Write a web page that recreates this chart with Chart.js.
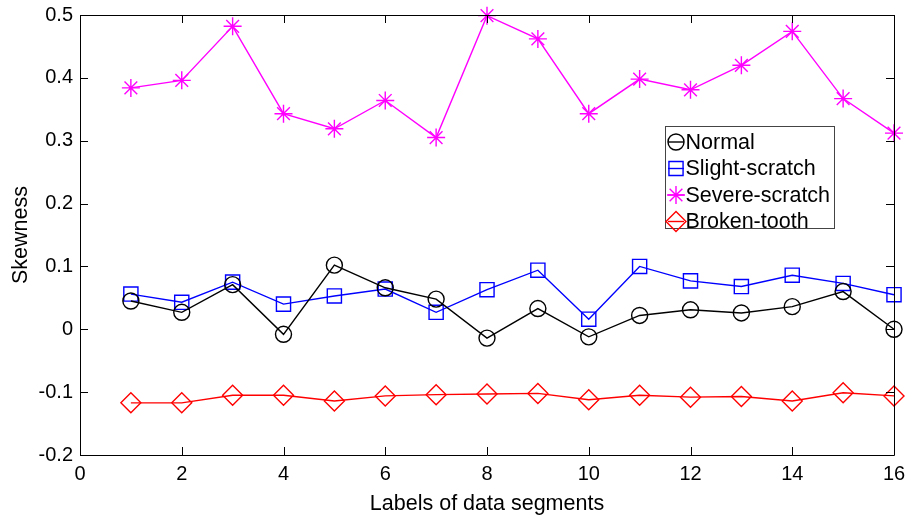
<!DOCTYPE html>
<html>
<head>
<meta charset="utf-8">
<script src="https://cdn.jsdelivr.net/npm/chart.js@4.4.1/dist/chart.umd.min.js"></script>
<style>
  html, body { margin: 0; padding: 0; background: #fff; }
  #wrap { width: 917px; height: 517px; position: relative; }
</style>
</head>
<body>
<div id="wrap"><canvas id="SkewCanvas"></canvas></div>
<script>
const segments = [1, 2, 3, 4, 5, 6, 7, 8, 9, 10, 11, 12, 13, 14, 15, 16];
const normal = [0.045, 0.027, 0.071, -0.008, 0.102, 0.066, 0.048, -0.014, 0.033, -0.012, 0.022, 0.031, 0.026, 0.036, 0.060, 0.000];
const slight = [0.056, 0.043, 0.075, 0.040, 0.053, 0.064, 0.027, 0.063, 0.094, 0.016, 0.100, 0.077, 0.068, 0.086, 0.073, 0.055];
const severe = [0.384, 0.396, 0.482, 0.343, 0.319, 0.364, 0.305, 0.499, 0.462, 0.343, 0.398, 0.381, 0.420, 0.474, 0.367, 0.312];
const broken = [-0.117, -0.117, -0.105, -0.105, -0.114, -0.106, -0.104, -0.103, -0.102, -0.112, -0.105, -0.108, -0.107, -0.114, -0.101, -0.106];
const xTicks = [0, 2, 4, 6, 8, 10, 12, 14, 16];
const yTicks = [-0.2, -0.1, 0, 0.1, 0.2, 0.3, 0.4, 0.5];

const FONT = 'Arial, "Liberation Sans", sans-serif';

function series(label, values, color, style, radius) {
    return {
        label: label,
        data: segments.map((x, i) => ({ x: x, y: values[i] })),
        borderColor: color,
        backgroundColor: color,
        borderWidth: 1.4,
        pointStyle: style,
        pointRadius: radius,
        pointBorderColor: color,
        pointBackgroundColor: 'rgba(0,0,0,0)',
        pointBorderWidth: 1.4,
        tension: 0,
        fill: false,
        clip: false
    };
}

// box round the axes with ticks pointing inwards, plus the legend
const matlabAxes = {
    id: 'matlabAxes',
    afterDatasetsDraw(chart) {
        const ctx = chart.ctx;
        const a = chart.chartArea;
        const xs = chart.scales.x, ys = chart.scales.y;
        const tl = 8;
        ctx.save();
        ctx.strokeStyle = '#000';
        ctx.lineWidth = 1;
        ctx.beginPath();
        ctx.rect(a.left + 0.5, a.top + 0.5, a.right - a.left, a.bottom - a.top);
        xTicks.forEach(v => {
            const px = Math.round(xs.getPixelForValue(v)) + 0.5;
            ctx.moveTo(px, a.bottom); ctx.lineTo(px, a.bottom - tl);
            ctx.moveTo(px, a.top); ctx.lineTo(px, a.top + tl);
        });
        yTicks.forEach(v => {
            const py = Math.round(ys.getPixelForValue(v)) + 0.5;
            ctx.moveTo(a.left, py); ctx.lineTo(a.left + tl, py);
            ctx.moveTo(a.right, py); ctx.lineTo(a.right - tl, py);
        });
        ctx.stroke();

        // legend
        const lx = 665.5, ly = 126.5, lw = 169, lh = 102;
        ctx.fillStyle = '#fff';
        ctx.fillRect(lx, ly, lw, lh);
        ctx.strokeStyle = '#444';
        ctx.strokeRect(lx, ly, lw, lh);
        ctx.font = '21.5px ' + FONT;
        ctx.textBaseline = 'middle';
        ctx.textAlign = 'left';
        chart.data.datasets.forEach((ds, i) => {
            const cy = ly + 15.5 + i * 26.5;
            const cx = lx + 10.5;
            ctx.strokeStyle = ds.borderColor;
            ctx.lineWidth = 1.4;
            ctx.beginPath();
            ctx.moveTo(cx - 8, cy); ctx.lineTo(cx + 8, cy);
            ctx.stroke();
            ctx.fillStyle = 'rgba(0,0,0,0)';
            Chart.helpers.drawPoint(ctx, {
                pointStyle: ds.pointStyle,
                radius: ds.pointRadius,
                rotation: 0,
                borderWidth: 1.4
            }, cx, cy);
            ctx.fillStyle = '#000';
            ctx.fillText(ds.label, lx + 20, cy + 1);
        });
        ctx.restore();
    }
};

new Chart(document.getElementById('SkewCanvas'), {
    type: 'line',
    data: {
        datasets: [
            series('Normal', normal, '#000000', 'circle', 8),
            series('Slight-scratch', slight, '#0000ff', 'rect', 10),
            series('Severe-scratch', severe, '#ff00ff', 'star', 9),
            series('Broken-tooth', broken, '#ff0000', 'rectRot', 10)
        ]
    },
    options: {
        responsive: true,
        maintainAspectRatio: false,
        animation: false,
        layout: { padding: { top: 15, right: 23, left: 0, bottom: 0 } },
        plugins: {
            legend: { display: false },
            tooltip: { enabled: false }
        },
        scales: {
            x: {
                type: 'linear',
                min: 0,
                max: 16,
                afterFit: s => { s.height = 62; },
                afterBuildTicks: s => { s.ticks = xTicks.map(v => ({ value: v })); },
                grid: { display: false, drawTicks: false },
                border: { display: false },
                ticks: { color: '#000', font: { family: FONT, size: 20 }, padding: 7, maxRotation: 0 },
                title: { display: true, text: 'Labels of data segments', color: '#000', font: { family: FONT, size: 21.5 }, padding: { top: 0, bottom: 0 } }
            },
            y: {
                min: -0.2,
                max: 0.5,
                afterFit: s => { s.width = 80; s.paddingTop = 0; s.paddingBottom = 0; },
                afterBuildTicks: s => { s.ticks = yTicks.map(v => ({ value: v })); },
                grid: { display: false, drawTicks: false },
                border: { display: false },
                ticks: {
                    color: '#000',
                    font: { family: FONT, size: 20 },
                    padding: 7,
                    callback: v => String(Math.round(v * 10) / 10)
                },
                title: { display: true, text: 'Skewness', color: '#000', font: { family: FONT, size: 21.5 }, padding: { top: 8, bottom: 0 } }
            }
        }
    },
    plugins: [matlabAxes]
});
</script>
</body>
</html>
